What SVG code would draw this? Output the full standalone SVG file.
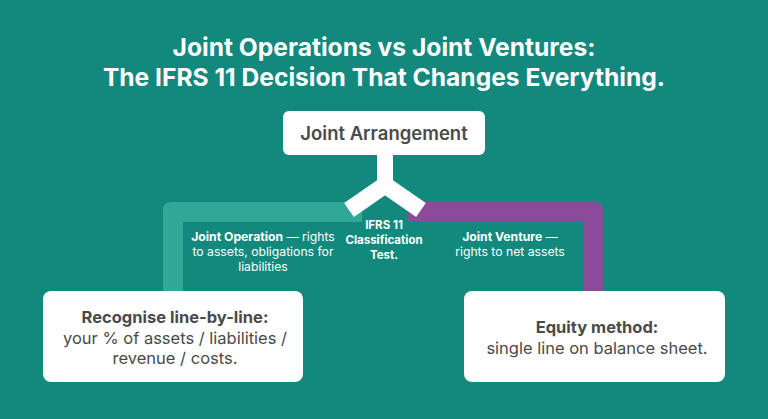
<svg xmlns="http://www.w3.org/2000/svg" width="768" height="419" viewBox="0 0 768 419">
<style>
.t{font-family:Inter,"Liberation Sans",sans-serif;fill:#fff;text-anchor:middle}
.title{font-size:24.6px;font-weight:700}
.lbl{font-size:12.2px}
.b{font-weight:700}
.box{fill:#fff}
.bt{font-family:Inter,"Liberation Sans",sans-serif;fill:#4a4a4a;text-anchor:middle;font-size:16.5px}
</style>
<rect width="768" height="419" fill="#13897d"/>
<text class="t title" x="384" y="56">Joint Operations vs Joint Ventures:</text>
<text class="t title" x="384" y="86">The IFRS 11 Decision That Changes Everything.</text>
<g id="connectors">
<path d="M163,292 V210 Q163,202 171,202 H362 V222 H183 V292 Z" fill="#2fa898"/>
<path d="M408,202 H595 Q603,202 603,210 V292 H584 V222 H408 Z" fill="#8c4a9a"/>
<path d="M385,150 V186" stroke="#fff" stroke-width="16" fill="none"/>
<path d="M349,210 L385,185 L421,210" stroke="#fff" stroke-width="17" fill="none" stroke-linejoin="miter"/>
</g>
<g id="joint-arrangement">
<rect class="box" x="283" y="111" width="202" height="44" rx="6"/>
<text class="bt" x="384" y="139.5" style="font-size:18.5px;font-weight:600">Joint Arrangement</text>
</g>
<g id="classification">
<text class="t b" x="384" y="229" style="font-size:11.5px">IFRS 11</text>
<text class="t b" x="384" y="244" style="font-size:11.5px">Classification</text>
<text class="t b" x="384" y="259" style="font-size:11.5px">Test.</text>
</g>
<g id="joint-operation-label">
<text class="t lbl" x="263" y="241"><tspan class="b">Joint Operation</tspan> — rights</text>
<text class="t lbl" x="263" y="256">to assets, obligations for</text>
<text class="t lbl" x="263" y="271">liabilities</text>
</g>
<g id="joint-venture-label">
<text class="t lbl" x="510" y="241"><tspan class="b">Joint Venture</tspan> —</text>
<text class="t lbl" x="510" y="256">rights to net assets</text>
</g>
<g id="line-by-line">
<rect class="box" x="43" y="291" width="260" height="91" rx="8"/>
<text class="bt b" x="175" y="323">Recognise line-by-line:</text>
<text class="bt" x="175" y="344">your % of assets / liabilities /</text>
<text class="bt" x="175" y="364">revenue / costs.</text>
</g>
<g id="equity-method">
<rect class="box" x="464" y="291" width="261" height="91" rx="8"/>
<text class="bt b" x="597" y="333">Equity method:</text>
<text class="bt" x="597" y="354">single line on balance sheet.</text>
</g>
</svg>
